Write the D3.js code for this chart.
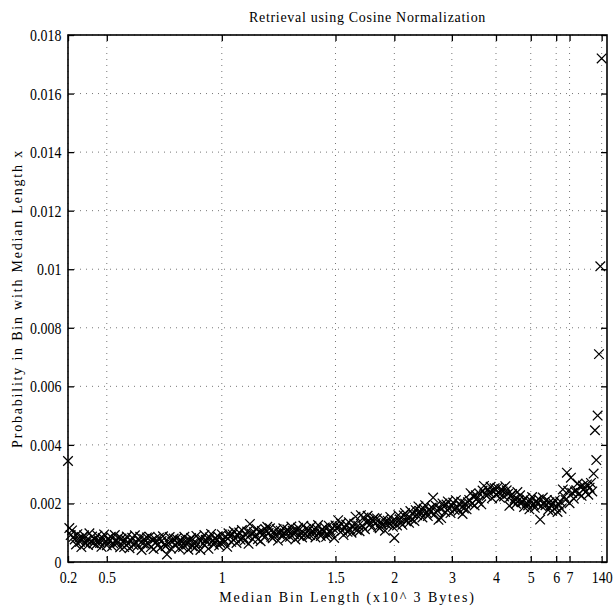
<!DOCTYPE html>
<html>
<head>
<meta charset="utf-8">
<script src="https://cdn.jsdelivr.net/npm/d3@7"></script>
<style>
	body { margin: 0; background: #fff; }
	text { font-family: "Liberation Serif", "Times New Roman", serif; fill: #000; }
</style>
</head>
<body>
<div id="chart"></div>
<script>
// x axis is the bin index (bins sorted by median length); ticks show median length
const tickLabels = ["0.2", "0.5", "1", "1.5", "2", "3", "4", "5", "6", "7", "140"];
const tickBins = [0, 29, 115, 200, 244, 287, 320, 346, 365, 375, 399];
const yTicks = [0, 0.002, 0.004, 0.006, 0.008, 0.01, 0.012, 0.014, 0.016, 0.018];

// probability per bin, in units of 1e-3
const probMilli = [
	3.45, 1.16, 0.92, 1.08, 0.85, 0.77, 0.60, 0.95, 0.81, 0.69, 0.51, 0.83, 0.91, 0.63, 0.75, 0.58, 0.98, 0.70, 0.87, 0.64,
	0.77, 0.60, 0.90, 0.74, 0.65, 0.52, 0.82, 0.94, 0.69, 0.57, 0.80, 0.71, 0.86, 0.54, 0.63, 0.92, 0.76, 0.66, 0.84, 0.50,
	0.80, 0.69, 0.51, 0.76, 0.87, 0.62, 0.47, 0.72, 0.83, 0.58, 0.91, 0.66, 0.55, 0.74, 0.86, 0.41, 0.63, 0.79, 0.60, 0.84,
	0.63, 0.86, 0.51, 0.75, 0.44, 0.79, 0.68, 0.57, 0.83, 0.48, 0.72, 0.88, 0.59, 0.54, 0.26, 0.65, 0.85, 0.46, 0.69, 0.80,
	0.57, 0.80, 0.63, 0.46, 0.76, 0.68, 0.51, 0.86, 0.72, 0.60, 0.42, 0.74, 0.82, 0.54, 0.66, 0.49, 0.89, 0.61, 0.78, 0.41,
	0.79, 0.62, 0.92, 0.76, 0.67, 0.45, 0.84, 0.96, 0.71, 0.59, 0.82, 0.73, 0.88, 0.56, 0.65, 0.94, 0.78, 0.68, 0.86, 0.52,
	0.98, 0.87, 0.69, 0.94, 1.05, 0.80, 0.65, 0.90, 1.01, 0.76, 1.09, 0.84, 0.73, 0.92, 1.04, 0.62, 1.30, 0.97, 0.78, 1.02,
	0.90, 1.13, 0.78, 1.02, 0.71, 1.06, 0.95, 0.84, 1.10, 1.20, 0.99, 1.15, 0.86, 0.81, 1.03, 0.92, 1.12, 0.73, 0.96, 1.07,
	0.92, 1.15, 0.98, 0.81, 1.11, 1.03, 0.86, 1.21, 1.07, 0.95, 0.77, 1.09, 1.17, 0.89, 1.01, 0.84, 1.24, 0.96, 1.13, 0.90,
	1.09, 0.92, 1.22, 1.06, 0.97, 0.84, 1.14, 1.26, 1.01, 0.89, 1.12, 1.03, 1.18, 0.86, 0.95, 1.24, 1.08, 0.98, 1.16, 0.82,
	1.25, 1.14, 1.43, 1.21, 1.32, 1.07, 0.92, 1.17, 1.28, 1.03, 1.36, 1.11, 1.00, 1.19, 1.31, 1.55, 1.08, 1.24, 1.05, 1.60,
	1.24, 1.52, 1.12, 1.36, 1.58, 1.40, 1.29, 1.18, 1.44, 1.50, 1.33, 1.49, 1.20, 1.15, 1.37, 1.26, 1.46, 1.07, 1.30, 1.41,
	1.31, 1.54, 1.37, 1.20, 0.82, 1.42, 1.25, 1.60, 1.46, 1.34, 1.27, 1.59, 1.67, 1.39, 1.51, 1.34, 1.74, 1.46, 1.63, 1.40,
	1.77, 1.60, 1.90, 1.74, 1.65, 1.52, 1.82, 1.94, 1.69, 1.57, 1.80, 1.71, 1.86, 2.20, 1.63, 1.92, 1.76, 1.44, 1.84, 1.50,
	2.00, 1.89, 1.71, 1.96, 2.07, 1.82, 1.67, 1.92, 2.03, 1.78, 2.11, 1.86, 1.75, 1.94, 2.06, 1.64, 1.83, 1.99, 1.80, 2.04,
	2.12, 2.35, 2.00, 2.24, 1.93, 2.28, 2.17, 2.06, 2.32, 1.97, 2.44, 2.60, 2.31, 2.26, 2.48, 2.37, 2.57, 2.18, 2.41, 2.52,
	2.30, 2.53, 2.36, 2.19, 2.49, 2.41, 2.24, 2.59, 2.45, 2.33, 1.92, 2.24, 2.32, 2.04, 2.16, 1.99, 2.39, 2.11, 2.28, 2.05,
	2.05, 1.88, 2.18, 2.02, 1.93, 1.80, 2.10, 2.22, 1.97, 1.85, 2.08, 1.99, 2.14, 1.45, 1.91, 2.20, 2.04, 1.94, 2.12, 1.78,
	2.04, 1.93, 1.75, 2.00, 2.11, 1.86, 1.71, 1.96, 2.07, 1.82, 2.48, 2.23, 2.12, 3.05, 2.43, 2.01, 2.88, 2.36, 2.17, 2.41,
	2.45, 2.68, 2.33, 2.57, 2.26, 2.61, 2.50, 2.39, 2.65, 2.30, 2.54, 2.70, 2.41, 3.02, 4.50, 3.48, 5.00, 7.10, 10.10, 17.20
];

const margin = { top: 35, right: 8, bottom: 44, left: 68 },
	width = 615 - margin.left - margin.right,
	height = 606 - margin.top - margin.bottom;

const svg = d3
	.select("#chart")
	.append("svg")
	.attr("width", 615)
	.attr("height", 606)
	.append("g")
	.attr("transform", `translate(${margin.left},${margin.top})`);

const x = d3.scaleLinear().domain([0, 403]).range([0, width]);
const y = d3.scaleLinear().domain([0, 0.018]).range([height, 0]);

// dotted grid
svg
	.append("g")
	.selectAll("line")
	.data(tickBins)
	.enter()
	.append("line")
	.attr("x1", (d) => x(d))
	.attr("x2", (d) => x(d))
	.attr("y1", 0)
	.attr("y2", height)
	.attr("stroke", "#777")
	.attr("stroke-width", 1)
	.attr("stroke-dasharray", "1,5");

svg
	.append("g")
	.selectAll("line")
	.data(yTicks)
	.enter()
	.append("line")
	.attr("x1", 0)
	.attr("x2", width)
	.attr("y1", (d) => y(d))
	.attr("y2", (d) => y(d))
	.attr("stroke", "#777")
	.attr("stroke-width", 1)
	.attr("stroke-dasharray", "1,5");

// axes with inward ticks on all four sides
const fontSize = "17px";
const squeeze = "scale(0.82,1)";

svg
	.append("g")
	.attr("transform", `translate(0,${height})`)
	.call(
		d3.axisBottom(x)
			.tickValues(tickBins)
			.tickFormat((d, i) => tickLabels[i])
			.tickSizeInner(-6)
			.tickSizeOuter(0)
			.tickPadding(9)
	)
	.call((g) => g.select(".domain").remove())
	.selectAll("text")
	.attr("transform", squeeze)
	.style("font-size", fontSize)
	.style("font-family", "Liberation Serif");

svg
	.append("g")
	.call(
		d3.axisTop(x)
			.tickValues(tickBins)
			.tickFormat("")
			.tickSizeInner(-6)
			.tickSizeOuter(0)
	)
	.call((g) => g.select(".domain").remove());

svg
	.append("g")
	.call(
		d3.axisLeft(y)
			.tickValues(yTicks)
			.tickFormat((d) => String(d))
			.tickSizeInner(-6)
			.tickSizeOuter(0)
			.tickPadding(8)
	)
	.call((g) => g.select(".domain").remove())
	.selectAll("text")
	.attr("transform", squeeze)
	.style("font-size", fontSize)
	.style("font-family", "Liberation Serif");

svg
	.append("g")
	.attr("transform", `translate(${width},0)`)
	.call(
		d3.axisRight(y)
			.tickValues(yTicks)
			.tickFormat("")
			.tickSizeInner(-6)
			.tickSizeOuter(0)
	)
	.call((g) => g.select(".domain").remove());

svg.selectAll(".tick line").attr("stroke", "#000").attr("stroke-width", 1.3);

// frame
svg
	.append("rect")
	.attr("x", 0)
	.attr("y", 0)
	.attr("width", width)
	.attr("height", height)
	.attr("fill", "none")
	.attr("stroke", "#000")
	.attr("stroke-width", 1.6);

// x markers
svg
	.append("g")
	.selectAll("path")
	.data(probMilli)
	.enter()
	.append("path")
	.attr("transform", (d, i) => `translate(${x(i)},${y(d / 1000)})`)
	.attr("d", "M-4.8,-4.8L4.8,4.8M-4.8,4.8L4.8,-4.8")
	.attr("fill", "none")
	.attr("stroke", "#000")
	.attr("stroke-width", 1.25);

// labels
svg
	.append("text")
	.attr("x", width / 2 + 30)
	.attr("y", -13)
	.attr("text-anchor", "middle")
	.style("font-size", "14px")
	.style("letter-spacing", "0.7px")
	.text("Retrieval using Cosine Normalization");

svg
	.append("text")
	.attr("x", width / 2 + 10)
	.attr("y", height + 40)
	.attr("text-anchor", "middle")
	.style("font-size", "14px")
	.style("letter-spacing", "1.9px")
	.text("Median Bin Length (x10^ 3 Bytes)");

svg
	.append("text")
	.attr("transform", "rotate(-90)")
	.attr("x", -height / 2)
	.attr("y", -margin.left + 22)
	.attr("text-anchor", "middle")
	.style("font-size", "14px")
	.style("letter-spacing", "1.8px")
	.text("Probability in Bin with Median Length x");
</script>
</body>
</html>
